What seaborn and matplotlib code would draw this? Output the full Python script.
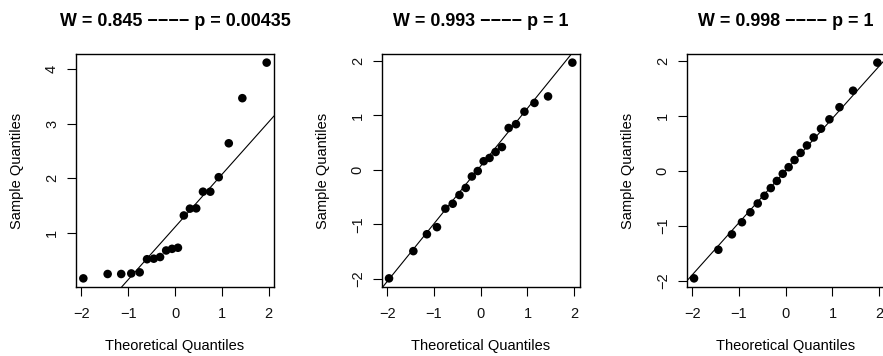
import numpy as np
import pandas as pd
import matplotlib
matplotlib.use("Agg")
import matplotlib.pyplot as plt
import seaborn as sns

# ---- data ----
theoretical = [-1.96, -1.44, -1.15, -0.935, -0.755, -0.598, -0.454, -0.319, -0.189, -0.063,
               0.063, 0.189, 0.319, 0.454, 0.598, 0.755, 0.935, 1.15, 1.44, 1.96]
sample_1 = [0.17, 0.25, 0.25, 0.26, 0.28, 0.52, 0.53, 0.56, 0.68, 0.71,
            0.73, 1.32, 1.445, 1.45, 1.755, 1.755, 2.02, 2.64, 3.465, 4.115]
sample_2 = [-1.99, -1.49, -1.18, -1.05, -0.71, -0.62, -0.46, -0.33, -0.12, -0.02,
            0.16, 0.22, 0.33, 0.42, 0.77, 0.84, 1.07, 1.23, 1.35, 1.97]
sample_3 = [-1.95, -1.43, -1.15, -0.93, -0.75, -0.59, -0.45, -0.31, -0.18, -0.05,
            0.07, 0.20, 0.33, 0.465, 0.61, 0.77, 0.94, 1.16, 1.46, 1.97]
titles = ["W = 0.845 \u2212\u2212\u2212\u2212 p = 0.00435",
          "W = 0.993 \u2212\u2212\u2212\u2212 p = 1",
          "W = 0.998 \u2212\u2212\u2212\u2212 p = 1"]
x_ticks = [-2, -1, 0, 1, 2]
y_ticks = [[1, 2, 3, 4], [-2, -1, 0, 1, 2], [-2, -1, 0, 1, 2]]
x_label = "Theoretical Quantiles"
y_label = "Sample Quantiles"

sns.set_theme(style="white")
plt.rcParams['font.family'] = ['Liberation Sans', 'DejaVu Sans']
plt.rcParams['text.color'] = 'black'
plt.rcParams['axes.labelcolor'] = 'black'

W, H = 883, 356
fig = plt.figure(figsize=(W / 100, H / 100), dpi=100)

lefts = [76, 381.7, 686.7]
ax_w = 198
top, bottom = 54, 287

for i, (sample, title) in enumerate(zip([sample_1, sample_2, sample_3], titles)):
    ax = fig.add_axes([lefts[i] / W, 1 - bottom / H, ax_w / W, (bottom - top) / H])
    df = pd.DataFrame({"x": theoretical, "y": sample})
    sns.scatterplot(data=df, x="x", y="y", ax=ax, color="black", s=38,
                    linewidth=0, edgecolor="none", zorder=3)
    # qqline through the quartiles
    y = np.array(sample)
    q1, q3 = np.quantile(y, [0.25, 0.75])
    x1, x3 = -0.6745, 0.6745
    slope = (q3 - q1) / (x3 - x1)
    inter = q1 - slope * x1
    ax.axline((0, inter), slope=slope, color="black", lw=0.8, zorder=2)

    xr = max(theoretical) - min(theoretical)
    ax.set_xlim(min(theoretical) - 0.04 * xr, max(theoretical) + 0.04 * xr)
    yr = max(sample) - min(sample)
    ax.set_ylim(min(sample) - 0.04 * yr, max(sample) + 0.04 * yr)

    ax.set_xticks(x_ticks)
    ax.set_xticklabels([str(t).replace("-", "\u2212") for t in x_ticks])
    ax.set_yticks(y_ticks[i])
    ax.set_yticklabels([str(t).replace("-", "\u2212") for t in y_ticks[i]],
                       rotation=90, va="center")
    ax.tick_params(axis="both", direction="out", length=6.2, width=0.8,
                   color="black", labelsize=10.5, labelcolor="#111111",
                   bottom=True, left=True)
    ax.tick_params(axis="x", pad=8)
    ax.tick_params(axis="y", pad=6)
    for sp in ax.spines.values():
        sp.set_color("black")
        sp.set_linewidth(1.0)
    ax.set_xlabel(x_label, fontsize=10.5, va="center", color="black")
    ax.set_ylabel(y_label, fontsize=10.5, va="center", color="black")
    ax.xaxis.set_label_coords(0.5, -59 / (bottom - top))
    ax.yaxis.set_label_coords(-59 / ax_w, 0.5)
    ax.set_title(title, fontsize=12.9, fontweight="bold", pad=20, color="black")
    ax.grid(False)

fig.savefig("out.png", dpi=100)
